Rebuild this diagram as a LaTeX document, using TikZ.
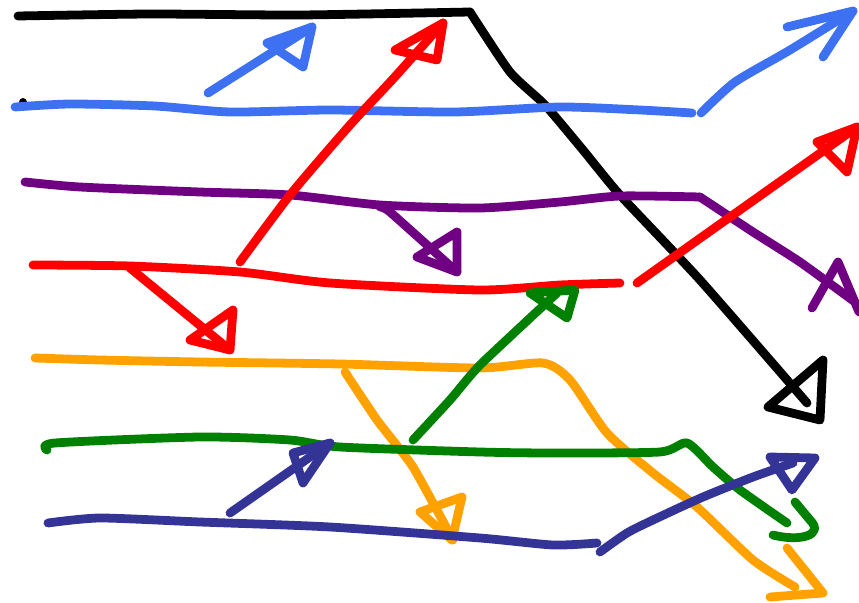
\documentclass[tikz,border=0pt]{standalone}
\usepackage{tikz}
\usetikzlibrary{arrows.meta}
\definecolor{skblue}{RGB}{62,112,242}
\definecolor{skpurple}{RGB}{112,0,130}
\definecolor{skred}{RGB}{255,0,0}
\definecolor{skorange}{RGB}{255,162,0}
\definecolor{skgreen}{RGB}{0,128,0}
\definecolor{sknavy}{RGB}{52,52,150}
\tikzset{pen/.style={line width=2.5pt,line cap=round,line join=round},
  wire/.style={pen,draw=#1},
  tip/.style={pen,draw=#1}}

\begin{document}
\begin{tikzpicture}[x=0.1mm,y=-0.1mm]
\useasboundingbox (0,0) rectangle (859,603);
% black
\draw[wire=black] plot[smooth,tension=0.35] coordinates {(18,16) (150,14) (300,15) (470,12)};
\draw[wire=black] plot[smooth,tension=0.35] coordinates {(470,12) (510,72) (545,105) (583,150) (620,195) (700,280) (807,403)};
\draw[tip=black] (768,407) -- (823,360) -- (820,420) -- cycle;
\fill (23,102) circle (4);
% blue
\draw[wire=skblue] plot[smooth,tension=0.4] coordinates {(15,107) (70,104) (155,106) (230,112) (330,110) (455,112) (560,107) (640,110) (692,113)};
\draw[wire=skblue] plot[smooth,tension=0.4] coordinates {(701,113) (735,82) (790,50) (853,11)};
\draw[tip=skblue] (787,27) -- (853,11) -- (823,57);
\draw[wire=skblue] (208,93) -- (312,27);
\draw[tip=skblue] (267,43) -- (312,27) -- (303,67) -- cycle;
% purple
\draw[wire=skpurple] plot[smooth,tension=0.4] coordinates {(25,182) (80,187) (200,192) (290,195) (380,205) (480,208) (560,202) (620,196) (700,197)};
\draw[wire=skpurple] plot[smooth,tension=0.3] coordinates {(700,197) (753,232) (800,262) (855,302)};
\draw[tip=skpurple] (812,308) -- (838,262) -- (859,312);
\draw[wire=skpurple] plot[smooth,tension=0.3] coordinates {(380,207) (390,212) (457,272)};
\draw[tip=skpurple] (417,257) -- (457,272) -- (457,232) -- cycle;
% red
\draw[wire=skred] plot[smooth,tension=0.4] coordinates {(33,265) (130,266) (240,272) (330,283) (480,290) (560,285) (620,283)};
\draw[wire=skred] (130,268) -- (230,350);
\draw[tip=skred] (190,340) -- (230,350) -- (233,310) -- cycle;
\draw[wire=skred] plot[smooth,tension=0.4] coordinates {(240,262) (290,195) (350,125) (392,80) (443,23)};
\draw[tip=skred] (395,50) -- (443,23) -- (437,60) -- cycle;
\draw[wire=skred] (637,283) -- (857,127);
\draw[tip=skred] (817,142) -- (857,127) -- (847,172) -- cycle;
% orange
\draw[wire=skorange] plot[smooth,tension=0.4] coordinates {(35,358) (100,360) (200,362) (340,364) (480,368) (543,363) (570,380) (607,433) (653,473) (697,507) (753,560) (795,587)};
\draw[tip=skorange] (770,597) -- (823,593) -- (787,548);
\draw[wire=skorange] plot[smooth,tension=0.3] coordinates {(345,372) (377,420) (413,467) (453,540)};
\draw[tip=skorange] (420,512) -- (462,497) -- (452,540) -- cycle;
% green
\draw[wire=skgreen] plot[smooth,tension=0.4] coordinates {(47,450) (55,443) (200,437) (290,440) (340,447) (480,452) (553,453) (660,452) (687,443) (713,467) (740,490) (787,523)};
\draw[tip=skgreen] (773,535) .. controls (800,542) and (825,535) .. (810,520) -- (795,502);
\draw[wire=skgreen] plot[smooth,tension=0.3] coordinates {(413,440) (450,400) (480,365) (557,293)};
\draw[tip=skgreen] (530,293) -- (575,290) -- (567,318) -- cycle;
% navy
\draw[wire=sknavy] plot[smooth,tension=0.4] coordinates {(48,523) (100,518) (200,522) (330,527) (480,538) (553,545) (597,543)};
\draw[wire=sknavy] plot[smooth,tension=0.4] coordinates {(600,552) (627,533) (653,520) (703,497) (753,477) (793,463)};
\draw[tip=sknavy] (770,457) -- (815,458) -- (792,490) -- cycle;
\draw[wire=sknavy] (230,513) -- (330,443);
\draw[tip=sknavy] (293,453) -- (330,443) -- (303,483) -- cycle;
\end{tikzpicture}
\end{document}
